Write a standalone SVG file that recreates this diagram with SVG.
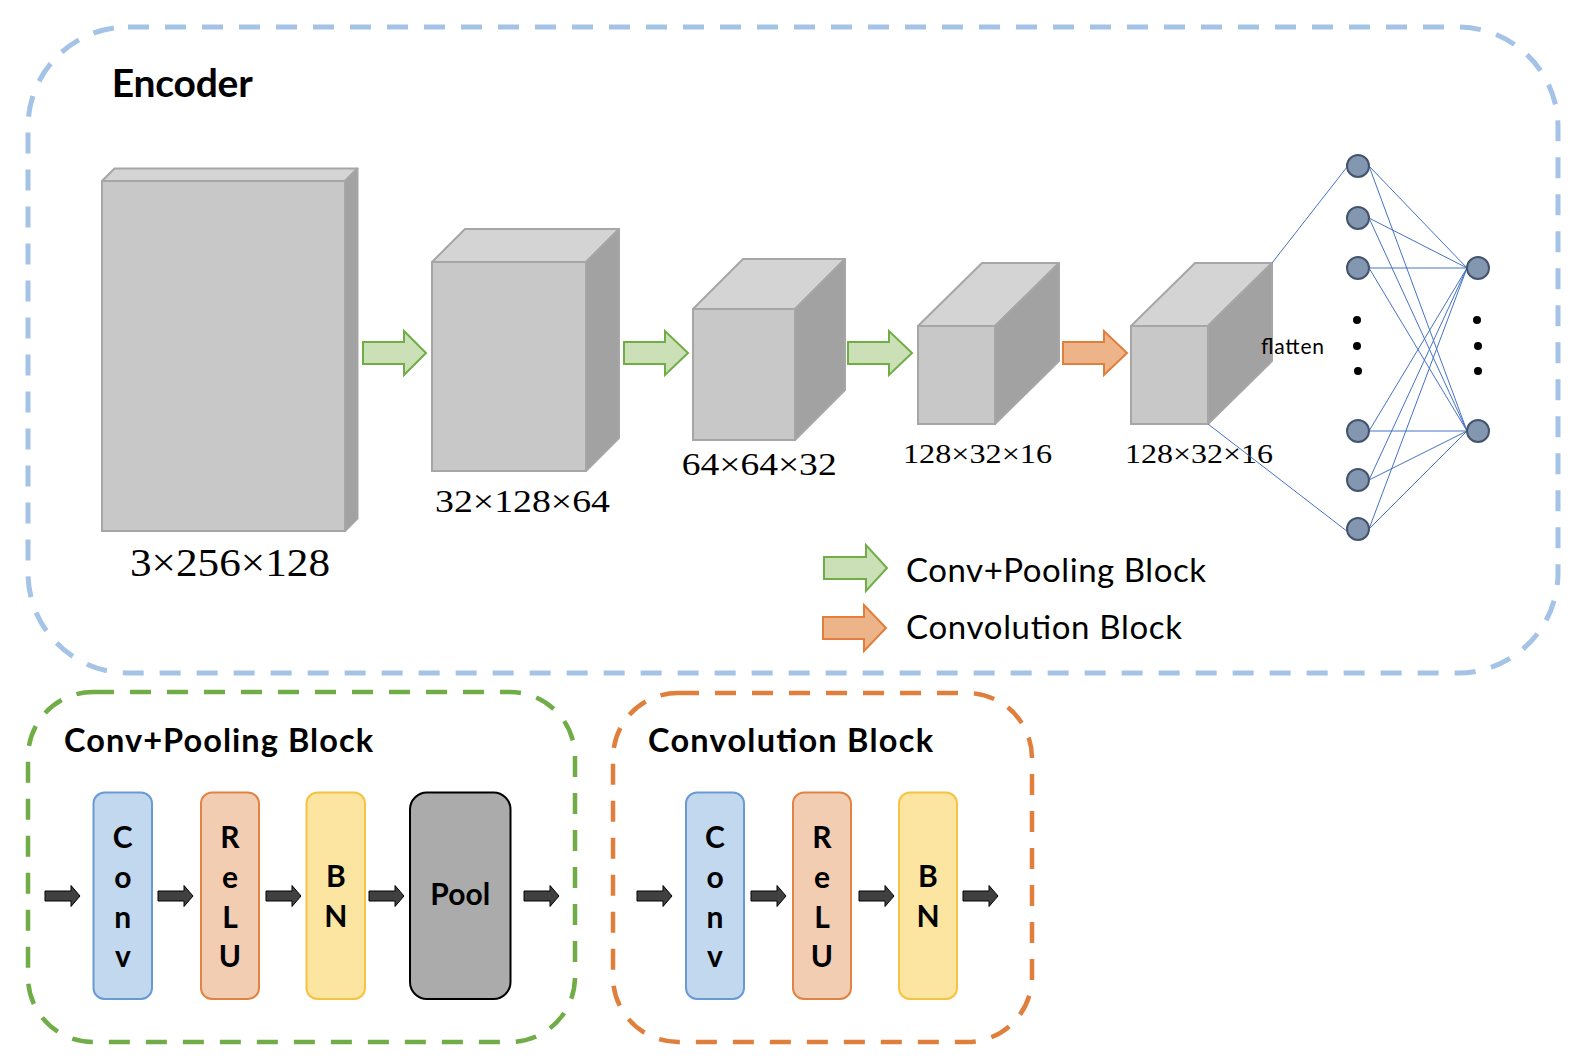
<svg xmlns="http://www.w3.org/2000/svg" width="1576" height="1062" viewBox="0 0 1576 1062">
<style>
.cf{fill:#C8C8C8;stroke:#A6A6A6;stroke-width:2}
.ct{fill:#D4D4D4;stroke:#A6A6A6;stroke-width:2;stroke-linejoin:round}
.cs{fill:#A2A2A2;stroke:#A6A6A6;stroke-width:2;stroke-linejoin:round}
.dim{font-family:"Liberation Serif",serif;fill:#000}
.ga{fill:#CCE0B8;stroke:#70AD47;stroke-width:2}
.oa{fill:#EDB48A;stroke:#E07E3C;stroke-width:2}
.da{fill:#404040;stroke:#000;stroke-width:1}
.lt{font-family:Lato,"Liberation Sans",sans-serif;font-weight:700;font-size:30px;fill:#000;text-anchor:middle}
.tt{font-family:Lato,"Liberation Sans",sans-serif;font-weight:700;fill:#000}
.rt{font-family:Lato,"Liberation Sans",sans-serif;fill:#000}
.nn{fill:#8497B0;stroke:#45546D;stroke-width:2}
.dot{fill:#000}
.ln{stroke:#4472C4;stroke-width:1;fill:none}
.dash{fill:none;stroke-dasharray:21 16}
.conv{fill:#C2D8EE;stroke:#6A9AD2;stroke-width:2}
.relu{fill:#F2CDB1;stroke:#E08446;stroke-width:2}
.bn{fill:#FBE5A0;stroke:#F5C242;stroke-width:2}
.pool{fill:#ABABAB;stroke:#000;stroke-width:2}
</style>
<rect x="0" y="0" width="1576" height="1062" fill="#fff"/>

<g id="encoder-frame">
<rect class="dash" x="28" y="27" width="1530" height="646" rx="100" ry="100" stroke="#A4C3E6" stroke-width="5"/>
<text class="tt" x="111.7" y="97.3" font-size="39" textLength="141">Encoder</text>
</g>

<g id="cube1">
<rect class="cf" x="102" y="181" width="243" height="350"/>
<path class="ct" d="M102,181 L114.5,168.5 L357.5,168.5 L345,181 Z"/>
<path class="cs" d="M345,181 L357.5,168.5 L357.5,518.5 L345,531 Z"/>
<text class="dim" x="130" y="576" font-size="40" textLength="200" lengthAdjust="spacingAndGlyphs">3×256×128</text>
</g>

<g id="cube2">
<rect class="cf" x="432" y="262" width="154" height="209"/>
<path class="ct" d="M432,262 L465,229 L619,229 L586,262 Z"/>
<path class="cs" d="M586,262 L619,229 L619,438 L586,471 Z"/>
<text class="dim" x="435" y="511.5" font-size="32.5" textLength="175" lengthAdjust="spacingAndGlyphs">32×128×64</text>
</g>

<g id="cube3">
<rect class="cf" x="693" y="309" width="102" height="131"/>
<path class="ct" d="M693,309 L743,259 L845,259 L795,309 Z"/>
<path class="cs" d="M795,309 L845,259 L845,390 L795,440 Z"/>
<text class="dim" x="681.7" y="475" font-size="32.5" textLength="155" lengthAdjust="spacingAndGlyphs">64×64×32</text>
</g>

<g id="cube4">
<rect class="cf" x="918" y="326" width="77" height="98"/>
<path class="ct" d="M918,326 L982,263 L1059,263 L995,326 Z"/>
<path class="cs" d="M995,326 L1059,263 L1059,361 L995,424 Z"/>
<text class="dim" x="903" y="462.7" font-size="27" textLength="149" lengthAdjust="spacingAndGlyphs">128×32×16</text>
</g>

<g id="cube5">
<rect class="cf" x="1131" y="326" width="77" height="98"/>
<path class="ct" d="M1131,326 L1195,263 L1272,263 L1208,326 Z"/>
<path class="cs" d="M1208,326 L1272,263 L1272,361 L1208,424 Z"/>
<text class="dim" x="1125" y="462.7" font-size="27" textLength="148" lengthAdjust="spacingAndGlyphs">128×32×16</text>
</g>

<g id="connectors">
<path class="ga" d="M363,342 H404 V331 L426,353 L404,375 V364 H363 Z"/>
<path class="ga" d="M624,342 H665 V331 L688,353 L665,375 V364 H624 Z"/>
<path class="ga" d="M848,342 H889 V331 L912,353 L889,375 V364 H848 Z"/>
<path class="oa" d="M1063,342 H1104 V331 L1127,353 L1104,375 V364 H1063 Z"/>
<line class="ln" x1="1272" y1="263" x2="1347" y2="167"/>
<line class="ln" x1="1208" y1="424" x2="1348" y2="532"/>
<line class="ln" x1="1369" y1="166" x2="1467" y2="268"/>
<line class="ln" x1="1369" y1="166" x2="1467" y2="431"/>
<line class="ln" x1="1369" y1="218" x2="1467" y2="268"/>
<line class="ln" x1="1369" y1="218" x2="1467" y2="431"/>
<line class="ln" x1="1369" y1="268" x2="1467" y2="268"/>
<line class="ln" x1="1369" y1="268" x2="1467" y2="431"/>
<line class="ln" x1="1369" y1="431" x2="1467" y2="268"/>
<line class="ln" x1="1369" y1="431" x2="1467" y2="431"/>
<line class="ln" x1="1369" y1="480" x2="1467" y2="268"/>
<line class="ln" x1="1369" y1="480" x2="1467" y2="431"/>
<line class="ln" x1="1369" y1="529" x2="1467" y2="268"/>
<line class="ln" x1="1369" y1="529" x2="1467" y2="431"/>
<path class="da" d="M45,891 H71 V885.5 L80,896 L71,906.5 V901 H45 Z"/>
<path class="da" d="M158,891 H184 V885.5 L193,896 L184,906.5 V901 H158 Z"/>
<path class="da" d="M266,891 H292 V885.5 L301,896 L292,906.5 V901 H266 Z"/>
<path class="da" d="M369,891 H395 V885.5 L404,896 L395,906.5 V901 H369 Z"/>
<path class="da" d="M524,891 H550 V885.5 L559,896 L550,906.5 V901 H524 Z"/>
<path class="da" d="M637,891 H663 V885.5 L672,896 L663,906.5 V901 H637 Z"/>
<path class="da" d="M751,891 H777 V885.5 L786,896 L777,906.5 V901 H751 Z"/>
<path class="da" d="M859,891 H885 V885.5 L894,896 L885,906.5 V901 H859 Z"/>
<path class="da" d="M963,891 H989 V885.5 L998,896 L989,906.5 V901 H963 Z"/>
</g>

<g id="flatten-label">
<text class="rt" x="1261" y="354" font-size="21" textLength="63">flatten</text>
</g>

<g id="dense-layers">
<circle class="nn" cx="1358" cy="166" r="11"/>
<circle class="nn" cx="1358" cy="218" r="11"/>
<circle class="nn" cx="1358" cy="268" r="11"/>
<circle class="nn" cx="1358" cy="431" r="11"/>
<circle class="nn" cx="1358" cy="480" r="11"/>
<circle class="nn" cx="1358" cy="529" r="11"/>
<circle class="nn" cx="1478" cy="268" r="11"/>
<circle class="nn" cx="1478" cy="431" r="11"/>
<circle class="dot" cx="1357" cy="320" r="4"/>
<circle class="dot" cx="1357" cy="346" r="4"/>
<circle class="dot" cx="1358" cy="371" r="4"/>
<circle class="dot" cx="1477" cy="320" r="4"/>
<circle class="dot" cx="1478" cy="346" r="4"/>
<circle class="dot" cx="1478" cy="371" r="4"/>
</g>

<g id="legend">
<path class="ga" d="M824,557 H866 V545 L887,568 L866,591 V579 H824 Z"/>
<text class="rt" x="906" y="581.5" font-size="33" textLength="300">Conv+Pooling Block</text>
<path class="oa" d="M823,617 H864 V605 L886,628 L864,651 V639 H823 Z"/>
<text class="rt" x="906" y="638.5" font-size="33" textLength="276">Convolution Block</text>
</g>

<g id="conv-pooling-block">
<rect class="dash" x="28" y="692" width="547" height="350" rx="65" ry="65" stroke="#70AD47" stroke-width="4.5"/>
<text class="tt" x="64" y="752" font-size="32.5" textLength="309">Conv+Pooling Block</text>
</g>
<g id="cp-conv">
<rect class="conv" x="93.5" y="792.5" width="58.5" height="206.5" rx="11"/>
<text class="lt" x="122.8" y="848">C</text>
<text class="lt" x="122.8" y="888">o</text>
<text class="lt" x="122.8" y="928">n</text>
<text class="lt" x="122.8" y="967">v</text>
</g>
<g id="cp-relu">
<rect class="relu" x="201" y="792.5" width="58" height="206.5" rx="11"/>
<text class="lt" x="230" y="848">R</text>
<text class="lt" x="230" y="888">e</text>
<text class="lt" x="230" y="928">L</text>
<text class="lt" x="230" y="967">U</text>
</g>
<g id="cp-bn">
<rect class="bn" x="306.5" y="792.5" width="58.5" height="206.5" rx="11"/>
<text class="lt" x="335.8" y="887">B</text>
<text class="lt" x="335.8" y="927">N</text>
</g>
<g id="cp-pool">
<rect class="pool" x="410" y="792.5" width="100.5" height="206.5" rx="17"/>
<text class="lt" x="460.2" y="905" font-size="25">Pool</text>
</g>

<g id="convolution-block">
<rect class="dash" x="613" y="693" width="419" height="349" rx="65" ry="65" stroke="#E07E3C" stroke-width="4.5"/>
<text class="tt" x="648" y="752" font-size="32.5" textLength="285">Convolution Block</text>
</g>
<g id="cb-conv">
<rect class="conv" x="686" y="792.5" width="58" height="206.5" rx="11"/>
<text class="lt" x="715" y="848">C</text>
<text class="lt" x="715" y="888">o</text>
<text class="lt" x="715" y="928">n</text>
<text class="lt" x="715" y="967">v</text>
</g>
<g id="cb-relu">
<rect class="relu" x="793" y="792.5" width="58" height="206.5" rx="11"/>
<text class="lt" x="822" y="848">R</text>
<text class="lt" x="822" y="888">e</text>
<text class="lt" x="822" y="928">L</text>
<text class="lt" x="822" y="967">U</text>
</g>
<g id="cb-bn">
<rect class="bn" x="899" y="792.5" width="58" height="206.5" rx="11"/>
<text class="lt" x="928" y="887">B</text>
<text class="lt" x="928" y="927">N</text>
</g>
</svg>
